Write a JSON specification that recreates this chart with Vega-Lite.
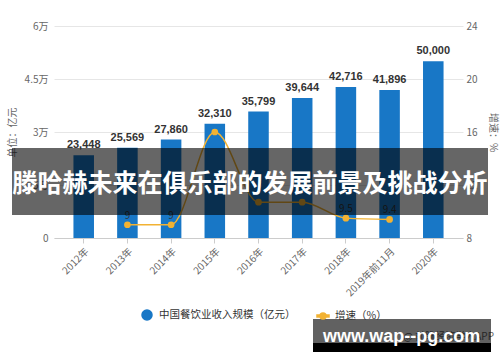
{
  "$schema": "https://vega.github.io/schema/vega-lite/v6.json",
  "width": 409,
  "height": 212,
  "autosize": {"type": "none"},
  "padding": {"left": 54, "top": 26, "right": 37, "bottom": 124},
  "background": "white",
  "config": {"view": {"stroke": null}, "font": "Noto Sans CJK SC"},
  "data": {
    "values": [
      {"year": "2012年", "value": 23448, "growth": null, "glabel": null},
      {"year": "2013年", "value": 25569, "growth": 9, "glabel": "9"},
      {"year": "2014年", "value": 27860, "growth": 9, "glabel": "9"},
      {"year": "2015年", "value": 32310, "growth": 16, "glabel": null},
      {"year": "2016年", "value": 35799, "growth": 10.7, "glabel": null},
      {"year": "2017年", "value": 39644, "growth": 10.7, "glabel": null},
      {"year": "2018年", "value": 42716, "growth": 9.5, "glabel": "9.5"},
      {"year": "2019年前11月", "value": 41896, "growth": 9.4, "glabel": "9.4"},
      {"year": "2020年", "value": 50000, "growth": null, "glabel": null}
    ]
  },
  "layer": [
    {
      "encoding": {
        "x": {
          "field": "year", "type": "nominal", "sort": null,
          "scale": {"paddingInner": 0.53, "paddingOuter": 0.445},
          "axis": {"title": null, "labelAngle": -45, "labelFontSize": 10, "labelColor": "#666", "domainColor": "#cccccc", "tickColor": "#cccccc", "tickSize": 5, "labelPadding": 3}
        }
      },
      "layer": [
        {
          "mark": {"type": "bar"},
          "encoding": {
            "y": {
              "field": "value", "type": "quantitative",
              "scale": {"domain": [0, 60000], "nice": false},
              "axis": {"values": [0, 15000, 30000, 45000, 60000], "labelExpr": "datum.value == 0 ? '0' : (datum.value / 10000) + '万'", "domain": false, "ticks": false, "gridColor": "#e6e6e6", "labelColor": "#666", "labelFontSize": 10, "labelPadding": 6, "title": "单位：亿元", "titleFontSize": 10, "titleFontWeight": "normal", "titleColor": "#666", "titlePadding": 7}
            },
            "color": {
              "datum": "中国餐饮业收入规模（亿元）",
              "scale": {"domain": ["中国餐饮业收入规模（亿元）", "增速（%）"], "range": ["#1877c6", "#f2b233"]},
              "legend": {
                "title": null, "orient": "none", "direction": "horizontal", "legendX": 87, "legendY": 283,
                "labelFontSize": 10.5, "labelColor": "#333", "labelOffset": 6, "columnPadding": 18, "symbolSize": 100,
                "encode": {"symbols": {"update": {
                  "fill": {"scale": "color", "field": "value"},
                  "stroke": {"value": "transparent"},
                  "shape": {"signal": "datum.value == '增速（%）' ? 'M-1.2,-0.18H1.2V0.18H-1.2Z M0.6,0A0.6,0.6,0,1,1,-0.6,0A0.6,0.6,0,1,1,0.6,0Z' : 'circle'"}
                }}}
              }
            }
          }
        },
        {
          "mark": {"type": "text", "baseline": "bottom", "dy": -5, "fontSize": 11, "fontWeight": "bold", "font": "Liberation Sans", "color": "#333"},
          "encoding": {
            "y": {"field": "value", "type": "quantitative"},
            "text": {"field": "value", "type": "quantitative", "format": ","}
          }
        }
      ]
    },
    {
      "encoding": {
        "x": {"field": "year", "type": "nominal", "sort": null}
      },
      "layer": [
        {
          "mark": {"type": "line", "interpolate": "monotone", "strokeWidth": 1.5, "point": {"filled": true, "size": 45}},
          "encoding": {
            "y": {
              "field": "growth", "type": "quantitative",
              "scale": {"domain": [8, 24], "nice": false, "zero": false},
              "axis": {"orient": "right", "values": [8, 12, 16, 20, 24], "grid": false, "domain": false, "ticks": false, "labelColor": "#666", "labelFontSize": 10, "labelPadding": 3, "title": "增速：%", "titleFontSize": 10, "titleFontWeight": "normal", "titleColor": "#666", "titlePadding": 10}
            },
            "color": {"datum": "增速（%）"}
          }
        },
        {
          "transform": [{"filter": "datum.glabel != null"}],
          "mark": {"type": "text", "baseline": "middle", "dy": -9, "fontSize": 10, "color": "#333"},
          "encoding": {
            "y": {"field": "growth", "type": "quantitative"},
            "text": {"field": "glabel", "type": "nominal"}
          }
        }
      ]
    },
    {
      "data": {"values": [{"caption": "滕哈赫未来在俱乐部的发展前景及挑战分析"}]},
      "layer": [
        {"mark": {"type": "rect", "x": -42, "x2": 434, "y": 122, "y2": 189, "fill": "black", "opacity": 0.6}, "encoding": {}},
        {"mark": {"type": "text", "x": 196, "y": 158, "align": "center", "baseline": "middle", "fontSize": 25, "fontWeight": "bold", "font": "Noto Sans CJK SC", "color": "white"}, "encoding": {"text": {"field": "caption"}}}
      ]
    },
    {
      "data": {"values": [{"mark": "www.wap--pg.com", "src": "@ 前瞻经济学人APP"}]},
      "layer": [
        {"mark": {"type": "text", "x": 440, "y": 311, "align": "right", "fontSize": 10, "color": "#666"}, "encoding": {"text": {"field": "src"}}},
        {"mark": {"type": "rect", "x": 259, "x2": 437, "y": 293, "y2": 317, "fill": "black", "opacity": 0.62}, "encoding": {}},
        {"mark": {"type": "rect", "x": 259, "x2": 437, "y": 317, "y2": 326, "fill": "black"}, "encoding": {}},
        {"mark": {"type": "text", "x": 269, "y": 316, "align": "left", "baseline": "alphabetic", "fontSize": 18, "fontWeight": "bold", "font": "Liberation Sans", "color": "white"}, "encoding": {"text": {"field": "mark"}}}
      ]
    }
  ],
  "resolve": {"scale": {"y": "independent"}}
}
